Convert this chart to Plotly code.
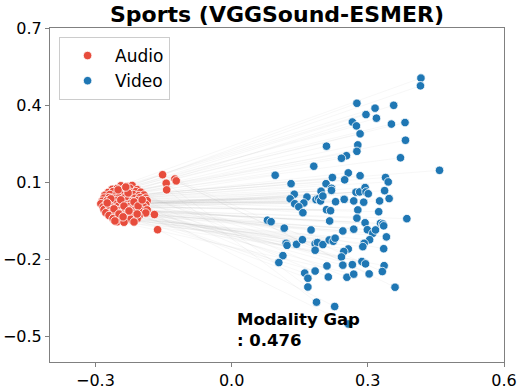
import plotly.graph_objects as go

# audio embeddings (2-D projection)
audio_x = [
    -0.244, -0.230, -0.219,
    -0.263, -0.252, -0.237, -0.224, -0.208,
    -0.272, -0.261, -0.248, -0.235, -0.222, -0.211, -0.200,
    -0.279, -0.268, -0.255, -0.244, -0.230, -0.217, -0.204, -0.193,
    -0.281, -0.270, -0.259, -0.248, -0.237, -0.226, -0.213, -0.202, -0.189,
    -0.285, -0.274, -0.263, -0.252, -0.241, -0.230, -0.219, -0.206, -0.195, -0.186,
    -0.288, -0.277, -0.266, -0.255, -0.244, -0.233, -0.222, -0.211, -0.200, -0.189,
    -0.283, -0.272, -0.261, -0.250, -0.239, -0.228, -0.217, -0.204, -0.193,
    -0.281, -0.268, -0.257, -0.246, -0.235, -0.222, -0.211, -0.197, -0.186,
    -0.277, -0.263, -0.252, -0.241, -0.228, -0.215, -0.202, -0.189,
    -0.270, -0.257, -0.244, -0.230, -0.217, -0.204,
    -0.261, -0.248, -0.235, -0.222, -0.208,
    -0.252, -0.237, -0.215,
    -0.250, -0.228, -0.266, -0.244, -0.215, -0.270, -0.237, -0.206, -0.259,
    -0.226, -0.248, -0.208, -0.239, -0.274, -0.197, -0.233, -0.257,
    -0.152, -0.125, -0.122, -0.144, -0.143, -0.170, -0.163,
]
audio_y = [
    0.086, 0.083, 0.087,
    0.072, 0.075, 0.073, 0.076, 0.071,
    0.060, 0.063, 0.061, 0.064, 0.060, 0.063, 0.061,
    0.049, 0.052, 0.048, 0.051, 0.049, 0.052, 0.048, 0.050,
    0.038, 0.040, 0.037, 0.041, 0.038, 0.040, 0.037, 0.040, 0.038,
    0.026, 0.028, 0.025, 0.029, 0.026, 0.028, 0.025, 0.029, 0.026, 0.028,
    0.016, 0.013, 0.017, 0.014, 0.016, 0.013, 0.017, 0.014, 0.016, 0.013,
    0.003, 0.005, 0.002, 0.006, 0.003, 0.005, 0.002, 0.005, 0.003,
    -0.007, -0.009, -0.006, -0.010, -0.007, -0.009, -0.006, -0.010, -0.008,
    -0.019, -0.021, -0.018, -0.022, -0.019, -0.021, -0.018, -0.020,
    -0.030, -0.033, -0.029, -0.032, -0.030, -0.033,
    -0.042, -0.045, -0.041, -0.044, -0.042,
    -0.054, -0.056, -0.055,
    0.070, 0.058, 0.035, 0.031, 0.023, 0.011, 0.007, 0.007, -0.004,
    -0.012, -0.024, -0.024, -0.035, 0.019, 0.031, 0.081, -0.051,
    0.129, 0.112, 0.105, 0.096, 0.070, -0.026, -0.085,
]

# video embeddings (2-D projection)
video_x = [
    0.417, 0.416, 0.276, 0.316, 0.357, 0.296, 0.319, 0.266, 0.275, 0.352,
    0.382, 0.283, 0.209, 0.278, 0.383, 0.276, 0.253, 0.242, 0.372, 0.181,
    0.458, 0.096, 0.257, 0.222, 0.283, 0.249, 0.339, 0.345, 0.131, 0.208,
    0.220, 0.220, 0.197, 0.138, 0.166, 0.129, 0.139, 0.159, 0.148, 0.157,
    0.186, 0.192, 0.196, 0.201, 0.229, 0.248, 0.269, 0.274, 0.282, 0.294,
    0.296, 0.301, 0.291, 0.326, 0.337, 0.347, 0.278, 0.209, 0.218, 0.324,
    0.079, 0.087, 0.216, 0.276, 0.294, 0.328, 0.333, 0.335, 0.386, 0.116,
    0.175, 0.245, 0.269, 0.299, 0.311, 0.317, 0.341, 0.120, 0.122, 0.143,
    0.156, 0.184, 0.189, 0.201, 0.215, 0.224, 0.228, 0.304, 0.292, 0.289,
    0.184, 0.257, 0.247, 0.242, 0.335, 0.113, 0.104, 0.210, 0.245, 0.266,
    0.287, 0.295, 0.336, 0.161, 0.184, 0.168, 0.213, 0.254, 0.269, 0.303,
    0.332, 0.360, 0.168, 0.187, 0.227, 0.257,
]
video_y = [
    0.505, 0.475, 0.407, 0.388, 0.399, 0.363, 0.349, 0.334, 0.319, 0.326,
    0.332, 0.288, 0.240, 0.245, 0.263, 0.220, 0.203, 0.193, 0.195, 0.162,
    0.146, 0.127, 0.136, 0.118, 0.125, 0.109, 0.118, 0.101, 0.094, 0.094,
    0.076, 0.068, 0.065, 0.053, 0.042, 0.035, 0.016, 0.019, 0.004, -0.019,
    0.032, 0.036, 0.027, 0.046, 0.024, 0.033, 0.027, 0.061, 0.062, 0.079,
    0.062, 0.055, 0.022, 0.027, 0.067, 0.036, -0.008, -0.007, -0.011, -0.015,
    -0.048, -0.054, -0.051, -0.040, -0.058, -0.060, -0.063, -0.070, -0.042, -0.079,
    -0.086, -0.090, -0.083, -0.085, -0.099, -0.086, -0.113, -0.138, -0.146, -0.142,
    -0.124, -0.140, -0.135, -0.143, -0.125, -0.130, -0.118, -0.124, -0.138, -0.151,
    -0.165, -0.160, -0.170, -0.191, -0.159, -0.186, -0.213, -0.226, -0.223, -0.221,
    -0.209, -0.218, -0.225, -0.254, -0.246, -0.274, -0.269, -0.270, -0.258, -0.257,
    -0.248, -0.309, -0.308, -0.367, -0.384, -0.452,
]

x_ticks = [-0.3, 0.0, 0.3, 0.6]
y_ticks = [-0.5, -0.2, 0.1, 0.4, 0.7]
modality_gap = 0.476

FONT = "DejaVu Sans"
AUDIO_COLOR = "#E74C3C"
VIDEO_COLOR = "#1F77B4"

# pair lines audio[i] -> video[i]
line_x, line_y = [], []
for ax_, ay_, vx_, vy_ in zip(audio_x, audio_y, video_x, video_y):
    line_x += [ax_, vx_, None]
    line_y += [ay_, vy_, None]

fig = go.Figure()
fig.add_trace(
    go.Scatter(
        x=line_x,
        y=line_y,
        mode="lines",
        line=dict(color="rgba(180,180,180,0.18)", width=0.6),
        hoverinfo="skip",
        showlegend=False,
    )
)
fig.add_trace(
    go.Scatter(
        x=audio_x,
        y=audio_y,
        mode="markers",
        name="Audio",
        marker=dict(color=AUDIO_COLOR, size=8.5, line=dict(color="white", width=0.8)),
    )
)
fig.add_trace(
    go.Scatter(
        x=video_x,
        y=video_y,
        mode="markers",
        name="Video",
        marker=dict(color=VIDEO_COLOR, size=8.5, line=dict(color="white", width=0.8)),
    )
)

fig.add_annotation(
    x=0.008,
    y=-0.475,
    xref="x",
    yref="y",
    text=f"Modality Gap<br>: {modality_gap:.3f}",
    showarrow=False,
    xanchor="left",
    yanchor="middle",
    align="left",
    font=dict(family=FONT, size=16.5, color="black", weight="bold"),
)

axis_style = dict(
    showgrid=False,
    zeroline=False,
    showline=True,
    mirror=True,
    linecolor="#808080",
    linewidth=1,
    ticks="outside",
    ticklen=4,
    tickcolor="#808080",
    tickfont=dict(family=FONT, size=16, color="black"),
    tickformat=".1f",
    automargin=False,
)

fig.update_layout(
    width=531,
    height=390,
    margin=dict(l=50, r=27, t=28, b=28),
    paper_bgcolor="white",
    plot_bgcolor="white",
    font=dict(family=FONT, color="black"),
    title=dict(
        text="Sports (VGGSound-ESMER)",
        x=0.5,
        xref="paper",
        xanchor="center",
        y=0.964,
        yanchor="middle",
        font=dict(family=FONT, size=22, color="black", weight="bold"),
    ),
    xaxis=dict(range=[-0.4, 0.6], tickvals=x_ticks, **axis_style),
    yaxis=dict(range=[-0.6, 0.7], tickvals=y_ticks, **axis_style),
    legend=dict(
        x=0.02,
        y=0.973,
        xanchor="left",
        yanchor="top",
        bgcolor="rgba(255,255,255,0.8)",
        bordercolor="#cccccc",
        borderwidth=1,
        itemwidth=45,
        font=dict(family=FONT, size=17, color="black"),
    ),
    showlegend=True,
)

# drop the browser's default body margin so the figure fills the window
fig.write_html(
    "out.html",
    config={"displayModeBar": False},
    post_script="document.body.style.margin = '0';",
)
